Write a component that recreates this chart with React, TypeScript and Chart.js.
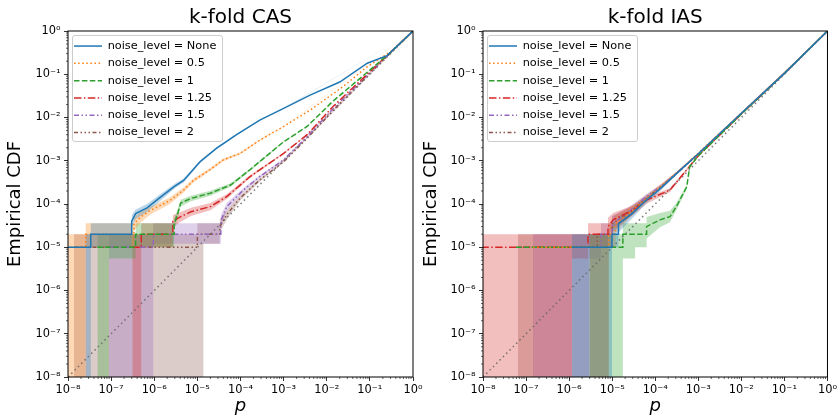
import React, { useEffect, useRef } from 'react';
import { Chart, registerables } from 'chart.js';

Chart.register(...registerables);

const FONT = 'DejaVu Sans';

type P = [number, number];
type B = [number, number, number]; // [p, lower, upper]

const seriesLabels = [
  'noise_level = None',
  'noise_level = 0.5',
  'noise_level = 1',
  'noise_level = 1.25',
  'noise_level = 1.5',
  'noise_level = 2',
];
const seriesColors = ['#1f77b4', '#ff7f0e', '#2ca02c', '#d62728', '#9467bd', '#8c564b'];
const bandColors = [
  'rgba(31,119,180,0.3)',
  'rgba(255,127,14,0.3)',
  'rgba(44,160,44,0.3)',
  'rgba(214,39,40,0.3)',
  'rgba(148,103,189,0.3)',
  'rgba(140,86,75,0.3)',
];
const seriesDashes: number[][] = [
  [],
  [1.5, 2.6],
  [5.5, 2.4],
  [7.5, 2.4, 1.5, 2.4],
  [5, 2.5, 1.5, 2.5, 1.5, 2.5],
  [4, 2.5, 1.5, 2.5, 1.5, 2.5, 1.5, 2.5],
];

const tickValues = [1e-8, 1e-7, 1e-6, 1e-5, 1e-4, 1e-3, 1e-2, 1e-1, 1];
const tickLabels = ['10⁻⁸', '10⁻⁷', '10⁻⁶', '10⁻⁵', '10⁻⁴', '10⁻³', '10⁻²', '10⁻¹', '10⁰'];

const diagX = [1e-8, 1];
const diagY = [1e-8, 1];

// ---------- k-fold CAS ----------
const casNone: P[] = [[1e-9,1e-5],[3.37e-8,1e-5],[3.37e-8,2e-5],[3.0e-7,2e-5],[3.0e-7,4e-5],[3.7e-7,6e-5],[6.8e-7,8.1e-5],[1.35e-6,1.4e-4],[3.0e-6,2.6e-4],[4.8e-6,3.5e-4],[1.15e-5,9.5e-4],[2.8e-5,1.95e-3],[8.1e-5,4.0e-3],[2.8e-4,8.7e-3],[1.0e-3,1.62e-2],[4.1e-3,3.3e-2],[2.0e-2,6.6e-2],[8.7e-2,1.8e-1],[2.5e-1,2.7e-1],[1,1]];
const cas05: P[] = [[1e-9,1e-5],[2.57e-8,1e-5],[2.57e-8,2e-5],[3.4e-7,2e-5],[3.4e-7,3.5e-5],[4.9e-7,5.1e-5],[8.3e-7,7.2e-5],[2.3e-6,1.2e-4],[4.8e-6,2.1e-4],[8.1e-6,3.5e-4],[1.95e-5,6.2e-4],[4.0e-5,1.05e-3],[9.8e-5,1.48e-3],[2.8e-4,3.0e-3],[1.0e-3,6.2e-3],[4.1e-3,1.48e-2],[2.4e-2,5.2e-2],[8.7e-2,1.5e-1],[3.0e-1,3.3e-1],[1,1]];
const cas1: P[] = [[4.8e-8,1e-5],[3.7e-7,1e-5],[3.7e-7,2e-5],[2.9e-6,2e-5],[2.9e-6,3.5e-5],[3.5e-6,6e-5],[4.1e-6,1.05e-4],[7.1e-6,1.35e-4],[2.0e-5,1.78e-4],[5.9e-5,2.75e-4],[1.66e-4,6.2e-4],[1.0e-3,2.75e-3],[3.5e-3,6.2e-3],[1.4e-2,2.4e-2],[1.0e-1,1.25e-1],[3.0e-1,3.2e-1],[1,1]];
const cas125: P[] = [[3.1e-7,1e-5],[5.0e-7,1e-5],[5.0e-7,2e-5],[2.7e-6,2e-5],[2.7e-6,4e-5],[4.1e-6,5.1e-5],[7.1e-6,6.6e-5],[2.0e-5,8.7e-5],[4.8e-5,1.48e-4],[1.66e-4,4.3e-4],[1.0e-3,1.48e-3],[3.5e-3,4.0e-3],[1.4e-2,1.8e-2],[1.0e-1,1.15e-1],[1,1]];
const cas15: P[] = [[8.9e-8,1e-5],[9.5e-7,1e-5],[9.5e-7,2e-5],[3.5e-5,2e-5],[3.5e-5,4e-5],[4.8e-5,8.7e-5],[1.17e-4,2.1e-4],[2.8e-4,4.3e-4],[1.0e-3,1.05e-3],[3.5e-3,3.6e-3],[1.4e-2,1.6e-2],[1.0e-1,1.1e-1],[1,1]];
const cas2: P[] = [[1.38e-8,1e-5],[1.0e-5,1e-5],[1.0e-5,2e-5],[3.3e-5,2e-5],[3.3e-5,3e-5],[5.0e-5,6e-5],[1.0e-4,1.4e-4],[2.8e-4,3.6e-4],[1.0e-3,9.5e-4],[3.5e-3,3.3e-3],[1.4e-2,1.45e-2],[1.0e-1,1.05e-1],[1,1]];

const casNoneBand: B[] = [[2.57e-8,1e-12,2e-5],[3.37e-8,1e-12,2e-5],[3.37e-8,1e-5,3.6e-5],[3.0e-7,1e-5,3.6e-5],[3.0e-7,2.8e-5,5.5e-5],[3.7e-7,4.5e-5,7.5e-5],[6.8e-7,6.5e-5,1.0e-4],[1.35e-6,1.15e-4,1.65e-4],[3.0e-6,2.3e-4,2.95e-4],[4.8e-6,3.15e-4,3.9e-4],[1.15e-5,8.8e-4,1.02e-3],[2.8e-5,1.85e-3,2.05e-3],[8.1e-5,3.85e-3,4.15e-3],[2.8e-4,8.5e-3,8.9e-3],[1.0e-3,1.6e-2,1.64e-2],[1,1,1]];
const cas05Band: B[] = [[1e-9,1e-12,2e-5],[2.57e-8,1e-12,2e-5],[2.57e-8,1e-5,3.6e-5],[3.4e-7,1e-5,3.6e-5],[3.4e-7,2.4e-5,5e-5],[4.9e-7,3.8e-5,6.6e-5],[8.3e-7,5.8e-5,8.8e-5],[2.3e-6,1.0e-4,1.42e-4],[4.8e-6,1.85e-4,2.4e-4],[8.1e-6,3.15e-4,3.9e-4],[1.95e-5,5.7e-4,6.7e-4],[4.0e-5,9.8e-4,1.12e-3],[9.8e-5,1.4e-3,1.56e-3],[2.8e-4,2.9e-3,3.1e-3],[1.0e-3,6.1e-3,6.3e-3],[1,1,1]];
const cas1Band: B[] = [[4.8e-8,1e-12,2e-5],[8.9e-8,1e-12,2e-5],[8.9e-8,5.5e-6,2e-5],[3.7e-7,5.5e-6,2e-5],[3.7e-7,1e-5,3.6e-5],[2.9e-6,1e-5,3.6e-5],[2.9e-6,2.6e-5,4.8e-5],[3.5e-6,4.6e-5,7.6e-5],[4.1e-6,8.8e-5,1.25e-4],[7.1e-6,1.16e-4,1.56e-4],[2.0e-5,1.55e-4,2.02e-4],[5.9e-5,2.5e-4,3.0e-4],[1.66e-4,5.8e-4,6.6e-4],[1.0e-3,2.68e-3,2.82e-3],[3.5e-3,6.1e-3,6.3e-3],[1,1,1]];
const cas125Band: B[] = [[3.1e-7,1e-12,2e-5],[5.0e-7,1e-12,2e-5],[5.0e-7,1e-5,3.6e-5],[2.7e-6,1e-5,3.6e-5],[2.7e-6,2.9e-5,5.5e-5],[4.1e-6,3.9e-5,6.5e-5],[7.1e-6,5.3e-5,8.2e-5],[2.0e-5,7.2e-5,1.05e-4],[4.8e-5,1.3e-4,1.68e-4],[1.66e-4,4.0e-4,4.6e-4],[1.0e-3,1.43e-3,1.53e-3],[3.5e-3,3.9e-3,4.1e-3],[1,1,1]];
const cas15Band: B[] = [[8.9e-8,1e-12,2e-5],[9.5e-7,1e-12,2e-5],[9.5e-7,1.2e-5,3.6e-5],[3.5e-5,1.2e-5,3.6e-5],[3.5e-5,2.8e-5,5.5e-5],[4.8e-5,7.2e-5,1.05e-4],[1.17e-4,1.85e-4,2.35e-4],[2.8e-4,3.95e-4,4.65e-4],[1.0e-3,1.0e-3,1.1e-3],[1,1,1]];
const cas2Band: B[] = [[1.38e-8,1e-12,2e-5],[1.0e-5,1e-12,2e-5],[1.0e-5,1e-12,3.6e-5],[1.38e-5,1e-12,3.6e-5],[1.38e-5,1.2e-5,3.6e-5],[3.3e-5,1.2e-5,3.6e-5],[3.3e-5,2.2e-5,4.5e-5],[5.0e-5,4.7e-5,7.6e-5],[1.0e-4,1.22e-4,1.6e-4],[2.8e-4,3.3e-4,3.9e-4],[1.0e-3,9.1e-4,9.9e-4],[1,1,1]];

// ---------- k-fold IAS ----------
const iasNone: P[] = [[1.17e-6,1e-5],[9.9e-6,1e-5],[9.9e-6,2e-5],[1.4e-5,2e-5],[1.4e-5,3.5e-5],[2.9e-5,6e-5],[6.0e-5,1.2e-4],[1.2e-4,2.1e-4],[3.5e-4,5.6e-4],[1.0e-3,1.45e-3],[1.0e-2,1.25e-2],[1.0e-1,1.05e-1],[1,1]];
const ias05: P[] = [[1.45e-7,1e-5],[8.3e-6,1e-5],[8.3e-6,2e-5],[1.2e-5,2e-5],[1.2e-5,3.5e-5],[2.4e-5,6e-5],[5.5e-5,1.2e-4],[1.2e-4,2.3e-4],[3.5e-4,5.8e-4],[1.0e-3,1.5e-3],[1.0e-2,1.25e-2],[1.0e-1,1.05e-1],[1,1]];
const ias1: P[] = [[5.8e-8,1e-5],[1.77e-5,1e-5],[1.77e-5,2e-5],[6.3e-5,2e-5],[6.3e-5,3e-5],[1.29e-4,4.3e-5],[2.2e-4,5.1e-5],[3.1e-4,8.7e-5],[5.4e-4,2.5e-4],[6.3e-4,7.2e-4],[1.0e-3,1.3e-3],[1.0e-2,1.2e-2],[1.0e-1,1.05e-1],[1,1]];
const ias125: P[] = [[1e-9,1e-5],[2.75e-6,1e-5],[2.75e-6,2e-5],[8.0e-6,2e-5],[8.0e-6,3e-5],[1.05e-5,4.3e-5],[3.0e-5,7.2e-5],[6.3e-5,1.23e-4],[2.2e-4,2.1e-4],[1.0e-3,1.3e-3],[1.0e-2,1.2e-2],[1.0e-1,1.05e-1],[1,1]];
const ias15: P[] = [[1.45e-7,1e-5],[5.5e-6,1e-5],[5.5e-6,2e-5],[1.0e-5,2e-5],[1.0e-5,3.5e-5],[2.4e-5,6.5e-5],[5.8e-5,1.4e-4],[1.45e-4,2.7e-4],[3.5e-4,5.8e-4],[1.0e-3,1.45e-3],[1.0e-2,1.25e-2],[1.0e-1,1.05e-1],[1,1]];
const ias2: P[] = [[6.5e-8,1e-5],[4.5e-6,1e-5],[4.5e-6,2e-5],[1.0e-5,2e-5],[1.0e-5,3.5e-5],[2.6e-5,6.5e-5],[6.0e-5,1.35e-4],[1.45e-4,2.6e-4],[3.5e-4,5.6e-4],[1.0e-3,1.4e-3],[1.0e-2,1.22e-2],[1.0e-1,1.05e-1],[1,1]];

const iasNoneBand: B[] = [[1.17e-6,1e-12,2e-5],[9.9e-6,1e-12,2e-5],[9.9e-6,1e-5,3.6e-5],[1.4e-5,1e-5,3.6e-5],[1.4e-5,2.2e-5,5.2e-5],[2.9e-5,4.6e-5,7.8e-5],[6.0e-5,1.0e-4,1.42e-4],[1.2e-4,1.85e-4,2.35e-4],[3.5e-4,5.3e-4,5.9e-4],[1.0e-3,1.4e-3,1.5e-3],[1,1,1]];
const ias05Band: B[] = [[2.98e-6,1e-12,2e-5],[8.3e-6,1e-12,2e-5],[8.3e-6,1e-5,3.6e-5],[1.2e-5,1e-5,3.6e-5],[1.2e-5,2.2e-5,5.2e-5],[2.4e-5,4.5e-5,7.8e-5],[5.5e-5,1.0e-4,1.42e-4],[1.2e-4,2.05e-4,2.6e-4],[3.5e-4,5.5e-4,6.1e-4],[1.0e-3,1.45e-3,1.55e-3],[1,1,1]];
const ias1Band: B[] = [[2.98e-6,1e-12,2e-5],[1.77e-5,1e-12,2e-5],[1.77e-5,5.5e-6,3.6e-5],[3.4e-5,5.5e-6,3.6e-5],[3.4e-5,1e-5,3.6e-5],[6.3e-5,1e-5,3.6e-5],[6.3e-5,1.6e-5,5e-5],[1.29e-4,2.9e-5,6.2e-5],[2.2e-4,3.8e-5,7e-5],[3.1e-4,7.2e-5,1.05e-4],[5.4e-4,2.25e-4,2.8e-4],[6.3e-4,6.8e-4,7.6e-4],[1.0e-3,1.25e-3,1.35e-3],[1,1,1]];
const ias125Band: B[] = [[1e-9,1e-12,2e-5],[1.17e-6,1e-12,2e-5],[1.17e-6,5.5e-6,2e-5],[2.75e-6,5.5e-6,2e-5],[2.75e-6,1e-5,3.6e-5],[8.0e-6,1e-5,3.6e-5],[8.0e-6,1.8e-5,4.8e-5],[1.05e-5,2.8e-5,6.2e-5],[3.0e-5,5.5e-5,9.2e-5],[6.3e-5,1.02e-4,1.46e-4],[2.2e-4,1.9e-4,2.3e-4],[1.0e-3,1.25e-3,1.35e-3],[1,1,1]];
const ias15Band: B[] = [[1.45e-7,1e-12,2e-5],[2.9e-6,1e-12,2e-5],[2.9e-6,5.5e-6,2e-5],[5.5e-6,5.5e-6,2e-5],[5.5e-6,1e-5,3.6e-5],[1.0e-5,1e-5,3.6e-5],[1.0e-5,2.2e-5,5.2e-5],[2.4e-5,5.0e-5,8.4e-5],[5.8e-5,1.2e-4,1.62e-4],[1.45e-4,2.45e-4,3.0e-4],[3.5e-4,5.5e-4,6.1e-4],[1.0e-3,1.4e-3,1.5e-3],[1,1,1]];
const ias2Band: B[] = [[6.5e-8,1e-12,2e-5],[8.3e-6,1e-12,2e-5],[8.3e-6,1e-5,3.6e-5],[1.0e-5,1e-5,3.6e-5],[1.0e-5,2.2e-5,5.2e-5],[2.6e-5,5.0e-5,8.4e-5],[6.0e-5,1.15e-4,1.58e-4],[1.45e-4,2.35e-4,2.9e-4],[3.5e-4,5.3e-4,5.9e-4],[1.0e-3,1.35e-3,1.45e-3],[1,1,1]];

const casLines = [casNone, cas05, cas1, cas125, cas15, cas2];
const casBands = [casNoneBand, cas05Band, cas1Band, cas125Band, cas15Band, cas2Band];
const iasLines = [iasNone, ias05, ias1, ias125, ias15, ias2];
const iasBands = [iasNoneBand, ias05Band, ias1Band, ias125Band, ias15Band, ias2Band];

const decorPlugin = {
  id: 'mplDecor',
  afterLayout(chart: any) {
    // place the vertical legend inside the plot area, top-left
    const lg = chart.legend;
    if (lg) {
      lg.top = chart.chartArea.top;
      lg.bottom = chart.chartArea.bottom;
      lg.left = chart.chartArea.left;
    }
  },
  beforeDraw(chart: any) {
    const lg = chart.legend;
    if (!lg || !lg.legendHitBoxes || !lg.legendHitBoxes.length) return;
    let l = Infinity, t = Infinity, r = -Infinity, b = -Infinity;
    lg.legendHitBoxes.forEach((h: any) => {
      l = Math.min(l, h.left);
      t = Math.min(t, h.top);
      r = Math.max(r, h.left + h.width);
      b = Math.max(b, h.top + h.height);
    });
    const ctx = chart.ctx;
    const x0 = Math.round(l - 2) + 0.5, y0 = Math.round(t - 5) + 0.5;
    const x1 = Math.round(r + 6) + 0.5, y1 = Math.round(b + 3) + 0.5;
    const rr = 2.5;
    ctx.save();
    ctx.beginPath();
    ctx.moveTo(x0 + rr, y0);
    ctx.lineTo(x1 - rr, y0);
    ctx.arcTo(x1, y0, x1, y0 + rr, rr);
    ctx.lineTo(x1, y1 - rr);
    ctx.arcTo(x1, y1, x1 - rr, y1, rr);
    ctx.lineTo(x0 + rr, y1);
    ctx.arcTo(x0, y1, x0, y1 - rr, rr);
    ctx.lineTo(x0, y0 + rr);
    ctx.arcTo(x0, y0, x0 + rr, y0, rr);
    ctx.closePath();
    ctx.fillStyle = 'rgba(255,255,255,0.8)';
    ctx.fill();
    ctx.strokeStyle = '#cccccc';
    ctx.lineWidth = 1;
    ctx.stroke();
    ctx.restore();
  },
  afterDraw(chart: any) {
    const { ctx, chartArea: a, scales } = chart;
    ctx.save();
    ctx.strokeStyle = '#000';
    ctx.lineWidth = 1;
    ctx.strokeRect(a.left, a.top, a.right - a.left, a.bottom - a.top);
    ctx.lineWidth = 0.6;
    ctx.beginPath();
    for (let e = -8; e < 0; e++) {
      for (let k = 2; k < 10; k++) {
        const v = k * Math.pow(10, e);
        const px = scales.x.getPixelForValue(v);
        ctx.moveTo(px, a.bottom);
        ctx.lineTo(px, a.bottom + 2);
        const py = scales.y.getPixelForValue(v);
        ctx.moveTo(a.left, py);
        ctx.lineTo(a.left - 2, py);
      }
    }
    ctx.stroke();
    ctx.restore();
  },
};

type PanelProps = {
  title: string;
  lines: P[][];
  bands: B[][];
  left: number;
  width: number;
  yAxisWidth: number;
  padRight: number;
  yTitlePad: number;
};

function Panel(props: PanelProps) {
  const ref = useRef<HTMLCanvasElement>(null);
  useEffect(() => {
    const canvas = ref.current;
    if (!canvas) return;
    const datasets: any[] = [];
    props.lines.forEach((pts, i) => {
      datasets.push({
        label: seriesLabels[i],
        data: pts.map(([x, y]) => ({ x, y })),
        borderColor: seriesColors[i],
        backgroundColor: seriesColors[i],
        borderWidth: 1.5,
        borderDash: seriesDashes[i],
        pointRadius: 0,
        fill: false,
        clip: 0,
      });
    });
    datasets.push({
      label: 'diagonal',
      data: diagX.map((x, i) => ({ x, y: diagY[i] })),
      borderColor: 'rgba(100,100,100,0.85)',
      borderWidth: 1.5,
      borderDash: [1.5, 3.2],
      pointRadius: 0,
      fill: false,
      clip: 0,
    });
    props.bands.forEach((band, i) => {
      datasets.push({
        label: 'band-hi',
        data: band.map((r) => ({ x: r[0], y: r[2] })),
        borderWidth: 0,
        borderColor: 'rgba(0,0,0,0)',
        pointRadius: 0,
        fill: false,
        clip: 0,
      });
      datasets.push({
        label: 'band-lo',
        data: band.map((r) => ({ x: r[0], y: r[1] })),
        borderWidth: 0,
        borderColor: 'rgba(0,0,0,0)',
        backgroundColor: bandColors[i],
        pointRadius: 0,
        fill: '-1',
        clip: 0,
      });
    });

    const axisCommon = (isX: boolean) => ({
      type: 'logarithmic' as const,
      min: 1e-8,
      max: 1,
      afterBuildTicks: (s: any) => {
        s.ticks = tickValues.map((v) => ({ value: v }));
      },
      ticks: {
        callback: (_v: any, i: number) => tickLabels[i],
        autoSkip: false,
        maxRotation: 0,
        minRotation: 0,
        color: '#000',
        font: { family: FONT, size: 11.4 },
        padding: isX ? 2 : 3.5,
      },
      grid: {
        display: true,
        drawOnChartArea: false,
        drawTicks: true,
        tickLength: 4,
        tickWidth: 0.8,
        tickColor: '#000',
      },
      border: { display: false },
    });

    const chart = new Chart(canvas, {
      type: 'line',
      data: { datasets },
      options: {
        animation: false,
        responsive: false,
        maintainAspectRatio: false,
        devicePixelRatio: 1,
        events: [],
        layout: { padding: { left: 0, right: props.padRight, top: 0, bottom: 0 } },
        plugins: {
          title: {
            display: true,
            text: props.title,
            fullSize: false,
            color: '#000',
            font: { family: FONT, size: 20, weight: 'normal' },
            padding: { top: 6, bottom: 1 },
          },
          legend: {
            display: true,
            position: 'chartArea',
            align: 'start',
            title: { display: true, text: '', font: { size: 3.4, lineHeight: 1 }, padding: 0 },
            labels: {
              generateLabels: (ch: any) => {
                const base = (Chart.defaults.plugins.legend.labels as any).generateLabels(ch);
                return base
                  .filter((it: any) => it.datasetIndex < 6)
                  .map((it: any) => ({
                    ...it,
                    lineDash: seriesDashes[it.datasetIndex],
                    lineWidth: 1.5,
                    strokeStyle: seriesColors[it.datasetIndex],
                    fillStyle: seriesColors[it.datasetIndex],
                    pointStyle: 'line',
                  }));
              },
              usePointStyle: true,
              pointStyle: 'line',
              pointStyleWidth: 28,
              color: '#000',
              font: { family: FONT, size: 11.3 },
              padding: 6,
            },
          },
          tooltip: { enabled: false },
        },
        scales: {
          x: {
            ...axisCommon(true),
            position: 'bottom',
            afterFit: (s: any) => {
              s.height = 40;
            },
            title: {
              display: true,
              text: 'p',
              color: '#000',
              font: { family: FONT, size: 18, style: 'italic' },
              padding: { top: 0, bottom: 0 },
            },
          },
          y: {
            ...axisCommon(false),
            position: 'left',
            afterFit: (s: any) => {
              s.width = props.yAxisWidth;
            },
            title: {
              display: true,
              text: 'Empirical CDF',
              color: '#000',
              font: { family: FONT, size: 18 },
              padding: { top: props.yTitlePad, bottom: 0 },
            },
          },
        },
      } as any,
      plugins: [decorPlugin],
    });
    return () => chart.destroy();
  }, []);
  return (
    <canvas
      ref={ref}
      width={props.width}
      height={417}
      style={{ position: 'absolute', left: props.left, top: 0, width: props.width, height: 417 }}
    />
  );
}

export default function App() {
  return (
    <div style={{ position: 'fixed', left: 0, top: 0, width: 839, height: 417, background: '#fff', overflow: 'hidden' }}>
      <Panel title="k-fold CAS" lines={casLines} bands={casBands} left={0} width={440} yAxisWidth={68} padRight={27} yTitlePad={5} />
      <Panel title="k-fold IAS" lines={iasLines} bands={iasBands} left={419} width={420} yAxisWidth={64} padRight={11} yTitlePad={2} />
    </div>
  );
}
